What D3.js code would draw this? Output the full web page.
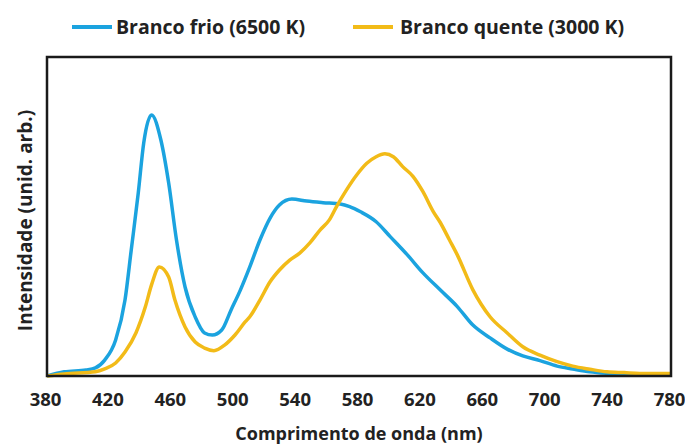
<!DOCTYPE html>
<html>
<head>
<meta charset="utf-8">
<script src="https://cdn.jsdelivr.net/npm/d3@7"></script>
<style>
  body { margin: 0; background: #fff; }
  text { font-family: "Open Sans", Lato, sans-serif; font-weight: bold; fill: #222; }
</style>
</head>
<body>
<div id="chart"></div>
<script>
// espectros (intensidade relativa, pico azul = 100)
var frioNm  = [380, 391, 405, 411, 417, 424, 430, 434, 438.5, 442, 447, 453, 458, 463, 468.5, 475, 481, 486, 492, 498, 504, 510, 516.5, 523, 529, 537, 546.5, 557, 568, 574, 581, 591, 600, 611, 621, 632, 643, 653, 664, 675, 685, 696, 707, 717, 728, 739, 760, 780];
var frioInt = [0, 1.6, 2.3, 3.1, 6.1, 13.8, 29.1, 48.3, 70.1, 89.3, 100, 90.4, 73.9, 52.1, 34.1, 22.6, 16.5, 15.7, 17.6, 25.3, 33.0, 41.8, 52.1, 60.5, 65.5, 67.8, 67.0, 66.4, 65.9, 64.9, 62.9, 59.1, 53.4, 46.4, 39.5, 33.0, 26.6, 19.5, 14.6, 10.3, 7.7, 5.9, 3.8, 2.7, 1.6, 1.0, 0.5, 0.4];

var quenteNm  = [380, 391, 411, 417, 424, 430, 437, 443, 447, 452, 458, 462, 468.5, 475, 481, 487, 494, 500.5, 507, 510, 516.5, 523, 529, 535.6, 542, 548.5, 555, 561, 565.6, 572, 578.5, 585, 591, 596.6, 602, 608, 614.7, 621, 627.6, 632, 638, 643, 653, 664, 675, 685, 696, 707, 717, 728, 739, 750, 760, 780];
var quenteInt = [0, 0.8, 1.6, 2.7, 5.0, 9.2, 16.5, 26.4, 34.9, 41.8, 37.9, 29.1, 18.8, 13.0, 10.7, 9.7, 11.9, 15.7, 20.7, 22.7, 29.1, 36.1, 40.6, 44.4, 47.1, 51.0, 55.9, 59.8, 64.9, 71.3, 77.0, 81.5, 84.0, 85.1, 84.0, 80.2, 76.4, 70.6, 63.0, 58.9, 52.1, 46.4, 33.0, 22.7, 16.5, 11.2, 8.0, 5.5, 3.8, 2.6, 1.6, 1.3, 1.0, 1.0];

var xTicks = [380, 420, 460, 500, 540, 580, 620, 660, 700, 740, 780];
var seriesNames = ["Branco frio (6500 K)", "Branco quente (3000 K)"];
var seriesColors = ["#1ba3df", "#f2bb18"];

var width = 685;
var height = 445;
var margin = {top: 57, right: 14, bottom: 69, left: 47};
var w = width - margin.left - margin.right;
var h = height - margin.top - margin.bottom;

var svg = d3.select('#chart')
    .append('svg')
    .attr('width', width)
    .attr('height', height);

var x = d3.scaleLinear()
    .domain([380, 780])
    .range([margin.left, margin.left + w]);

var y = d3.scaleLinear()
    .domain([0, 122.2])
    .range([margin.top + h, margin.top]);

var line = d3.line()
    .x(d => x(d[0]))
    .y(d => y(d[1]))
    .curve(d3.curveMonotoneX);

var frio = d3.zip(frioNm, frioInt);
var quente = d3.zip(quenteNm, quenteInt);

svg.append('path')
    .datum(frio)
    .attr('d', line)
    .attr('fill', 'none')
    .attr('stroke', seriesColors[0])
    .attr('stroke-width', 3.5)
    .attr('stroke-linejoin', 'round');

svg.append('path')
    .datum(quente)
    .attr('d', line)
    .attr('fill', 'none')
    .attr('stroke', seriesColors[1])
    .attr('stroke-width', 3.5)
    .attr('stroke-linejoin', 'round');

// moldura
svg.append('rect')
    .attr('x', margin.left)
    .attr('y', margin.top)
    .attr('width', w)
    .attr('height', h)
    .attr('fill', 'none')
    .attr('stroke', '#1a1a1a')
    .attr('stroke-width', 2.5);

// eixo x (só rótulos)
var xAxis = svg.append('g')
    .attr('transform', 'translate(0,' + (margin.top + h) + ')')
    .call(d3.axisBottom(x).tickValues(xTicks).tickSize(0).tickPadding(17));
xAxis.select('.domain').remove();
xAxis.selectAll('text')
    .attr('font-size', 18.5)
    .attr('font-family', '"Open Sans", sans-serif')
    .attr('font-weight', 'bold')
    .attr('fill', '#222')
    .attr('dx', -2);

svg.append('text')
    .attr('x', margin.left + w / 2)
    .attr('y', 440)
    .attr('text-anchor', 'middle')
    .attr('font-size', 18)
    .text('Comprimento de onda (nm)');

svg.append('text')
    .attr('transform', 'translate(32,' + (margin.top + h / 2 + 4) + ') rotate(-90)')
    .attr('text-anchor', 'middle')
    .attr('font-size', 19)
    .text('Intensidade (unid. arb.)');

// legenda
var legendX = [72, 353];
var legend = svg.append('g')
    .selectAll('g')
    .data(seriesNames)
    .enter()
    .append('g')
    .attr('transform', (d, i) => 'translate(' + legendX[i] + ',27)');

legend.append('line')
    .attr('x1', 0)
    .attr('x2', 40)
    .attr('stroke', (d, i) => seriesColors[i])
    .attr('stroke-width', 4);

legend.append('text')
    .attr('x', (d, i) => i == 0 ? 44 : 47)
    .attr('y', 7)
    .attr('font-size', 19.5)
    .text(d => d);
</script>
</body>
</html>
